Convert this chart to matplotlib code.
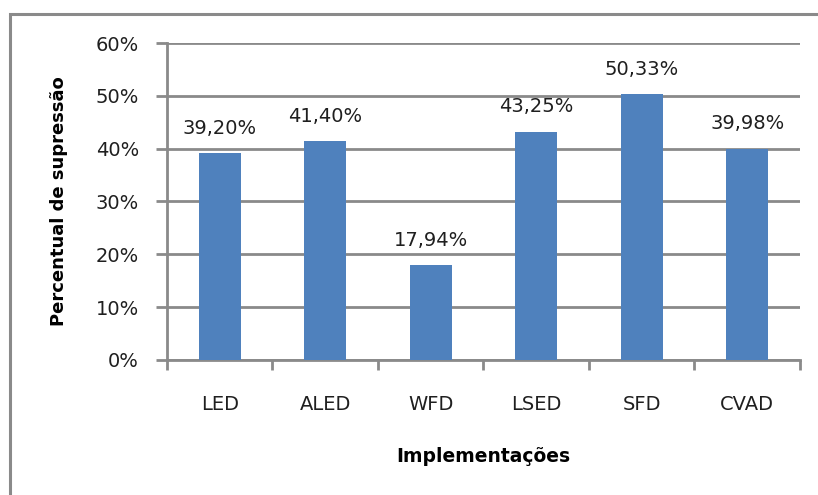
import matplotlib.pyplot as plt
from matplotlib.patches import Rectangle

categorias = ["LED", "ALED", "WFD", "LSED", "SFD", "CVAD"]
valores = [39.20, 41.40, 17.94, 43.25, 50.33, 39.98]
rotulos = ["39,20%", "41,40%", "17,94%", "43,25%", "50,33%", "39,98%"]
yticks = [0, 10, 20, 30, 40, 50, 60]

plt.rcParams['font.family'] = ['DejaVu Sans']
cinza = '#8a8a8a'
texto = '#1f1f1f'

fig = plt.figure(figsize=(8.18, 4.95), dpi=100)
ax = fig.add_axes([0.204, 0.273, 0.774, 0.640])

# borda externa do grafico (cortada a direita e embaixo)
fig.patches.append(Rectangle((10 / 818, -0.2), 1.2, 0.2 + (495 - 14) / 495,
                             transform=fig.transFigure, fill=False,
                             edgecolor=cinza, linewidth=2.2))

x = range(len(categorias))
bars = ax.bar(x, valores, width=0.4, color='#4F81BD', zorder=3)
for b, r in zip(bars, rotulos):
    ax.text(b.get_x() + b.get_width() / 2, b.get_height() + 2.9, r,
            ha='center', va='bottom', fontsize=14, color=texto)

ax.set_xlim(-0.5, len(categorias) - 0.5)
ax.set_ylim(0, 60)
ax.set_yticks(yticks)
ax.set_yticklabels([f"{v}%" for v in yticks], fontsize=14, color=texto)
ax.set_xticks(x)
ax.set_xticklabels(categorias, fontsize=14, color=texto)
ax.set_xticks([i - 0.5 for i in range(len(categorias) + 1)], minor=True)
ax.tick_params(axis='x', which='major', length=0, pad=25)
ax.tick_params(axis='x', which='minor', length=7, width=2, color=cinza)
ax.tick_params(axis='y', length=8, width=2, color=cinza, pad=12)

ax.grid(axis='y', color=cinza, linewidth=2, zorder=0)
for s in ['top', 'right']:
    ax.spines[s].set_visible(False)
for s in ['left', 'bottom']:
    ax.spines[s].set_color(cinza)
    ax.spines[s].set_linewidth(2)

ax.set_xlabel("Implementações", fontsize=13.5, fontweight='bold', labelpad=24)
ax.set_ylabel("Percentual de supressão", fontsize=13, fontweight='bold', labelpad=20)

fig.savefig("out.png", dpi=100)
